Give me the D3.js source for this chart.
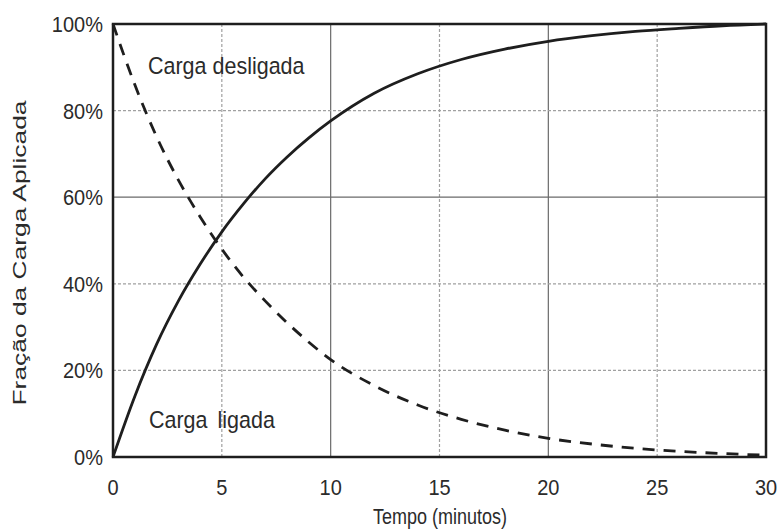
<!DOCTYPE html>
<html>
<head>
<meta charset="utf-8">
<script src="https://cdn.jsdelivr.net/npm/d3@7"></script>
<style>
  html, body { margin: 0; padding: 0; background: #fff; }
  svg text { font-family: "Liberation Sans", Arial, Helvetica, sans-serif; fill: #2b2b2b; }
</style>
</head>
<body>
<svg id="chart" width="782" height="530"></svg>
<script>
// Tempo (minutos)
const tempo = [0, 1, 2, 3, 4, 5, 6, 7, 8, 9, 10, 12, 14, 16, 18, 20, 22, 24, 26, 28, 30];
// Fração da carga (%) com a carga ligada (curva de aquecimento)
const cargaLigada = [0, 14, 26, 36, 44.5, 52, 58.5, 64.3, 69.3, 73.7, 77.6, 84, 88.5, 91.8, 94.2, 96, 97.3, 98.3, 99, 99.6, 100];
// Fração da carga (%) com a carga desligada (curva de resfriamento)
const cargaDesligada = [100, 86, 74, 64, 55.5, 48, 41.5, 36, 31, 26.5, 22.5, 16.5, 12, 8.7, 6.2, 4.3, 3, 2, 1.3, 0.8, 0.4];

const xTicks = [0, 5, 10, 15, 20, 25, 30];
const yTicks = [0, 20, 40, 60, 80, 100];
const majorX = [10, 20];
const majorY = [60];

const svg = d3.select("#chart");
const mLeft = 113, mRight = 766, mTop = 24, mBottom = 457;
const vStretch = 1.12; // glyphs are drawn slightly taller than wide

const x = d3.scaleLinear().domain([0, 30]).range([mLeft, mRight]);
const y = d3.scaleLinear().domain([0, 100]).range([mBottom, mTop]);

// stretched horizontal text anchored at its baseline
function label(g, px, py, txt, size, anchor, stretch) {
  return g.append("text")
    .attr("transform", `translate(${px},${py}) scale(1,${stretch || vStretch})`)
    .attr("text-anchor", anchor || "start")
    .attr("font-size", size)
    .text(txt);
}

// grid
const grid = svg.append("g");
grid.selectAll("line.vx").data(xTicks.filter(d => d > 0 && d < 30)).join("line")
  .attr("x1", d => x(d)).attr("x2", d => x(d)).attr("y1", mTop).attr("y2", mBottom)
  .attr("stroke", d => majorX.includes(d) ? "#6a6a6a" : "#a0a0a0")
  .attr("stroke-width", 1.2)
  .attr("stroke-dasharray", d => majorX.includes(d) ? null : "3,2");
grid.selectAll("line.hy").data(yTicks.filter(d => d > 0 && d < 100)).join("line")
  .attr("x1", mLeft).attr("x2", mRight).attr("y1", d => y(d)).attr("y2", d => y(d))
  .attr("stroke", d => majorY.includes(d) ? "#6a6a6a" : "#a0a0a0")
  .attr("stroke-width", 1.2)
  .attr("stroke-dasharray", d => majorY.includes(d) ? null : "3,2");

// tick labels
const ticks = svg.append("g");
xTicks.forEach(d => label(ticks, x(d), 495, d3.format("d")(d), 20, "middle"));
yTicks.forEach(d => label(ticks, 103, y(d) + 8, d + "%", 20, "end"));

// curves
const line = d3.line().x(d => x(d[0])).y(d => y(d[1])).curve(d3.curveMonotoneX);
svg.append("path")
  .datum(tempo.map((t, i) => [t, cargaLigada[i]]))
  .attr("d", line).attr("fill", "none").attr("stroke", "#1e1e1e").attr("stroke-width", 2.8);
svg.append("path")
  .datum(tempo.map((t, i) => [t, cargaDesligada[i]]))
  .attr("d", line).attr("fill", "none").attr("stroke", "#1e1e1e").attr("stroke-width", 2.8)
  .attr("stroke-dasharray", "12,9");

// frame
svg.append("rect").attr("x", mLeft).attr("y", mTop)
  .attr("width", mRight - mLeft).attr("height", mBottom - mTop)
  .attr("fill", "none").attr("stroke", "#1e1e1e").attr("stroke-width", 2.5);

// curve labels
label(svg, 148, 74, "Carga desligada", 21.5);
label(svg, 149, 428, "Carga ligada", 21.5).attr("word-spacing", 4);

// axis titles
label(svg, 440, 524, "Tempo (minutos)", 18, "middle", 1.25);
svg.append("text").attr("transform", "translate(26,253) rotate(-90)")
  .attr("text-anchor", "middle").attr("font-size", 18.5)
  .attr("textLength", 305).attr("lengthAdjust", "spacingAndGlyphs")
  .text("Fração da Carga Aplicada");
</script>
</body>
</html>
